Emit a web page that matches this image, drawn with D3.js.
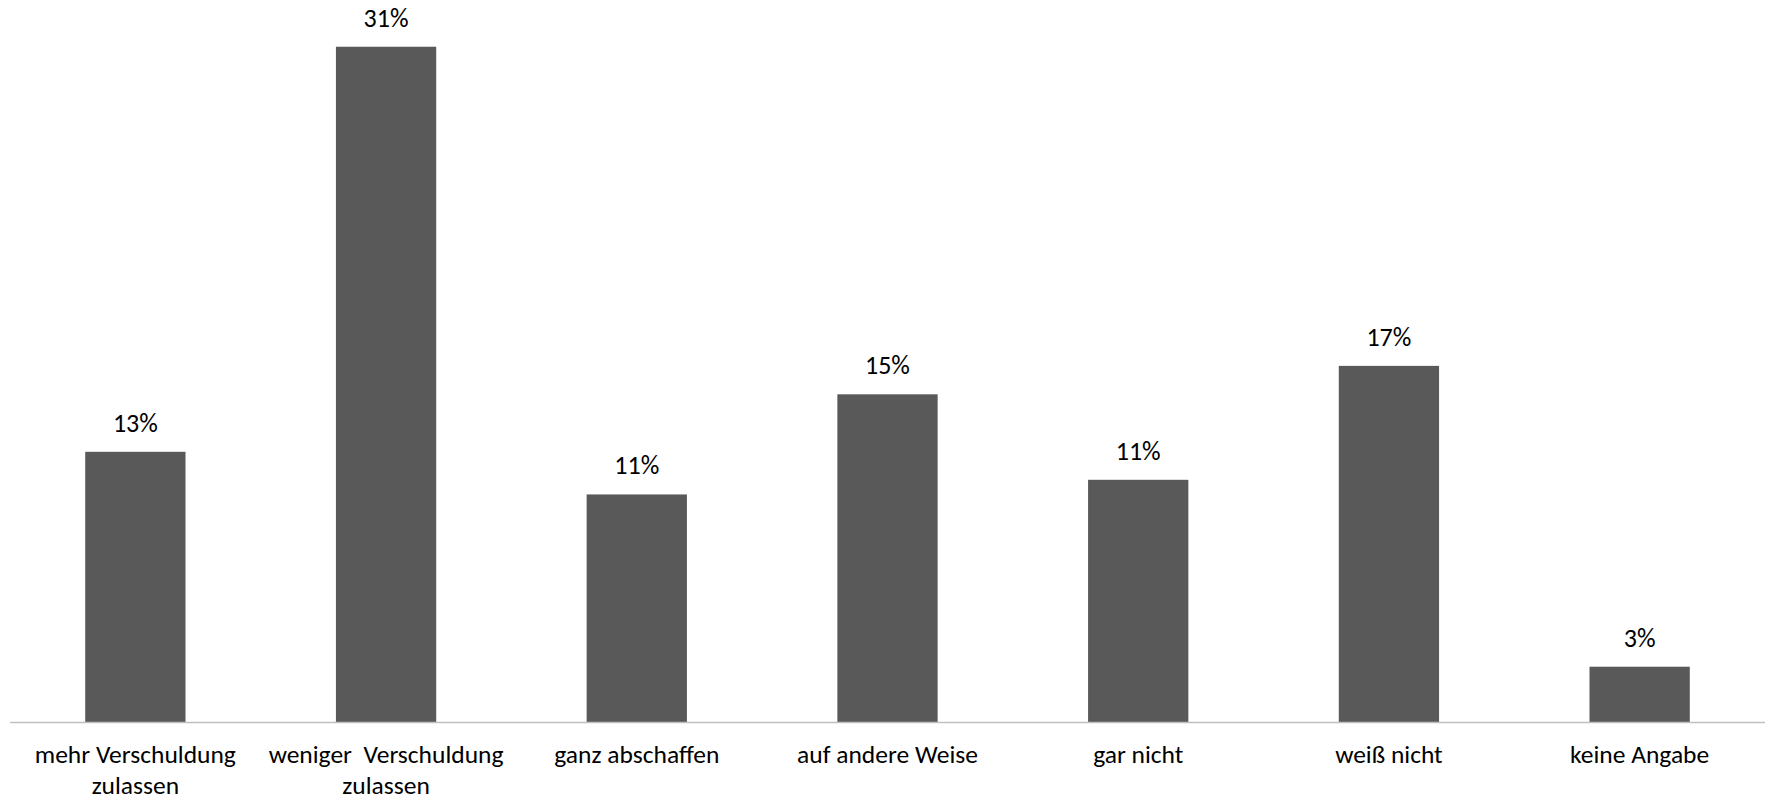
<!DOCTYPE html>
<html>
<head>
<meta charset="utf-8">
<script src="https://cdn.jsdelivr.net/npm/d3@7"></script>
<style>
  html, body { margin: 0; padding: 0; background: #ffffff; }
  svg { display: block; }
  text { font-family: Carlito, Calibri, Lato, "Open Sans", sans-serif; fill: #000000; }
</style>
</head>
<body>
<svg id="chart" width="1769" height="800"></svg>
<script>
// Survey answers (percent of respondents)
const categories = [
  "mehr Verschuldung zulassen",
  "weniger  Verschuldung zulassen",
  "ganz abschaffen",
  "auf andere Weise",
  "gar nicht",
  "weiß nicht",
  "keine Angabe"
];
const values = [12.57, 31.38, 10.59, 15.24, 11.27, 16.56, 2.59];

// Line breaks used for the category labels
const labelLines = [
  ["mehr Verschuldung", "zulassen"],
  ["weniger  Verschuldung", "zulassen"],
  ["ganz abschaffen"],
  ["auf andere Weise"],
  ["gar nicht"],
  ["weiß nicht"],
  ["keine Angabe"]
];

const yMax = 33.55;

const svg = d3.select("#chart");
const margin = { left: 10, right: 4, top: 0, baseline: 722.5 };
const width = 1769;

const x = d3.scaleBand()
  .domain(categories)
  .range([margin.left, width - margin.right])
  .paddingInner(0.6)
  .paddingOuter(0.3);

const y = d3.scaleLinear()
  .domain([0, yMax])
  .range([margin.baseline, margin.top]);

// Bars
svg.append("g")
  .selectAll("rect")
  .data(values)
  .join("rect")
  .attr("x", (d, i) => x(categories[i]))
  .attr("y", d => y(d))
  .attr("width", x.bandwidth())
  .attr("height", d => y(0) - y(d))
  .attr("fill", "#595959");

// Category axis (line only, no ticks)
const xAxis = d3.axisBottom(x).tickSize(0).tickFormat("");
const axisG = svg.append("g")
  .attr("transform", `translate(0,${y(0)})`)
  .call(xAxis);
axisG.select(".domain")
  .attr("stroke", "#bfbfbf")
  .attr("stroke-width", 1.5)
  .attr("d", `M${margin.left},0H${width - margin.right}`);

// Category labels
const catLabels = svg.append("g")
  .selectAll("text")
  .data(categories)
  .join("text")
  .attr("text-anchor", "middle")
  .style("font-size", "25.5px")
  .style("white-space", "pre")
  .attr("x", d => x(d) + x.bandwidth() / 2)
  .attr("y", y(0) + 40.5);

catLabels.each(function (d, i) {
  const t = d3.select(this);
  labelLines[i].forEach((line, j) => {
    t.append("tspan")
      .attr("x", x(d) + x.bandwidth() / 2)
      .attr("dy", j === 0 ? 0 : 31)
      .text(line);
  });
});

// Value labels above the bars
const fmt = v => Math.round(v) + "%";
svg.append("g")
  .selectAll("text")
  .data(values)
  .join("text")
  .attr("text-anchor", "middle")
  .style("font-size", "26px")
  .attr("x", (d, i) => x(categories[i]) + x.bandwidth() / 2)
  .attr("y", d => y(d) - 20)
  .text(fmt);
</script>
</body>
</html>
